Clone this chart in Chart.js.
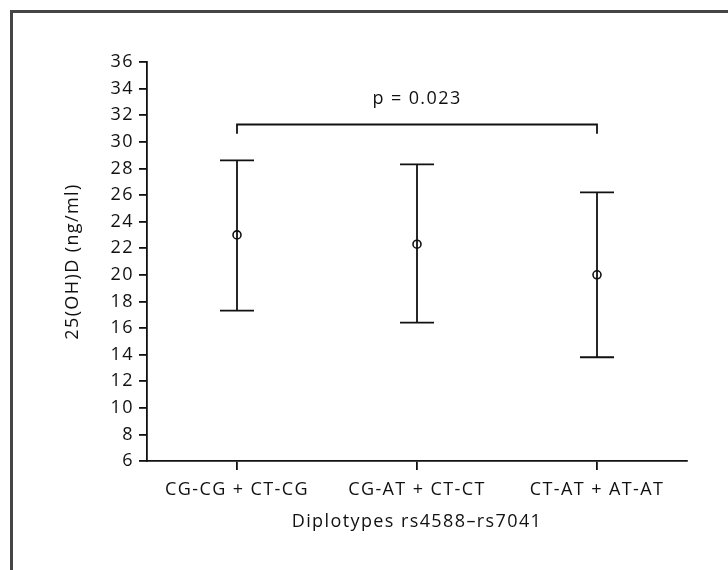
<!DOCTYPE html>
<html>
<head>
<meta charset="utf-8">
<script src="https://cdn.jsdelivr.net/npm/chart.js@4"></script>
<style>
  body { margin: 0; background: #fff; }
  #wrap { position: relative; width: 728px; height: 570px; }
</style>
</head>
<body>
<div id="wrap"><canvas id="chart" width="728" height="570"></canvas></div>
<script>
// data
const categories = ['CG-CG + CT-CG', 'CG-AT + CT-CT', 'CT-AT + AT-AT'];
const means = [23.0, 22.3, 20.0];
const upper = [28.6, 28.3, 26.2];
const lower = [17.3, 16.4, 13.8];
const yTicks = [6, 36, 2]; // min, max, step

// significance bracket between first and last group
const pLabel = 'p = 0.023';
const bracketTop = 31.3;
const bracketFoot = 30.6;

const FONT = '"Open Sans", "Noto Sans", sans-serif';
const SIZE = 18;
const INK = '#111';
const LW = 1.8;

// frame line round the figure, error bars and bracket
const extras = {
    id: 'extras',
    beforeUpdate(chart) {
        chart.ctx.letterSpacing = '1.4px';
    },
    beforeDraw(chart) {
        const ctx = chart.ctx;
        ctx.letterSpacing = '1.4px';
        ctx.save();
        ctx.fillStyle = '#454545';
        ctx.fillRect(10, 10, chart.width - 10, 3);
        ctx.fillRect(10, 10, 3, chart.height - 10);
        ctx.restore();
    },
    afterDatasetsDraw(chart) {
        const ctx = chart.ctx;
        const x = chart.scales.x;
        const y = chart.scales.y;
        const cap = 17;
        ctx.save();
        ctx.strokeStyle = INK;
        ctx.lineWidth = LW;
        categories.forEach((c, i) => {
            const px = x.getPixelForValue(i);
            const top = y.getPixelForValue(upper[i]);
            const bot = y.getPixelForValue(lower[i]);
            ctx.beginPath();
            ctx.moveTo(px, top); ctx.lineTo(px, bot);
            ctx.moveTo(px - cap, top); ctx.lineTo(px + cap, top);
            ctx.moveTo(px - cap, bot); ctx.lineTo(px + cap, bot);
            ctx.stroke();
        });

        // bracket
        const x0 = x.getPixelForValue(0);
        const x1 = x.getPixelForValue(categories.length - 1);
        const yt = y.getPixelForValue(bracketTop);
        const yf = y.getPixelForValue(bracketFoot);
        ctx.beginPath();
        ctx.moveTo(x0, yf); ctx.lineTo(x0, yt); ctx.lineTo(x1, yt); ctx.lineTo(x1, yf);
        ctx.stroke();

        ctx.fillStyle = INK;
        ctx.font = SIZE + 'px ' + FONT;
        ctx.textAlign = 'center';
        ctx.textBaseline = 'middle';
        ctx.fillText(pLabel, (x0 + x1) / 2, yt - 26);
        ctx.restore();
    }
};

new Chart(document.getElementById('chart'), {
    type: 'line',
    data: {
        labels: categories,
        datasets: [{
            data: means,
            showLine: false,
            pointRadius: 4,
            pointHoverRadius: 4,
            pointBorderColor: INK,
            pointBackgroundColor: 'rgba(0,0,0,0)',
            pointBorderWidth: 1.6
        }]
    },
    options: {
        responsive: false,
        animation: false,
        events: [],
        layout: { padding: { left: 62, right: 41, top: 62, bottom: 37 } },
        plugins: { legend: { display: false }, tooltip: { enabled: false } },
        scales: {
            x: {
                type: 'category',
                offset: true,
                grid: { offset: false, drawOnChartArea: false, drawTicks: true, tickLength: 9, color: INK, lineWidth: LW },
                border: { display: true, color: INK, width: LW },
                ticks: { color: INK, font: { family: FONT, size: SIZE }, padding: 9, maxRotation: 0, autoSkip: false },
                title: { display: true, text: 'Diplotypes rs4588\u2013rs7041', color: INK, font: { family: FONT, size: SIZE }, padding: 0 },
                afterFit(s) { s.height = 72; }
            },
            y: {
                min: yTicks[0],
                max: yTicks[1],
                grid: { drawOnChartArea: false, drawTicks: true, tickLength: 8, color: INK, lineWidth: LW },
                border: { display: true, color: INK, width: LW },
                ticks: { stepSize: yTicks[2], color: INK, font: { family: FONT, size: SIZE }, padding: 5, autoSkip: false },
                title: { display: true, text: '25(OH)D (ng/ml)', color: INK, font: { family: FONT, size: SIZE }, padding: 0 },
                afterFit(s) { s.width = 85; }
            }
        }
    },
    plugins: [extras]
});
</script>
</body>
</html>
